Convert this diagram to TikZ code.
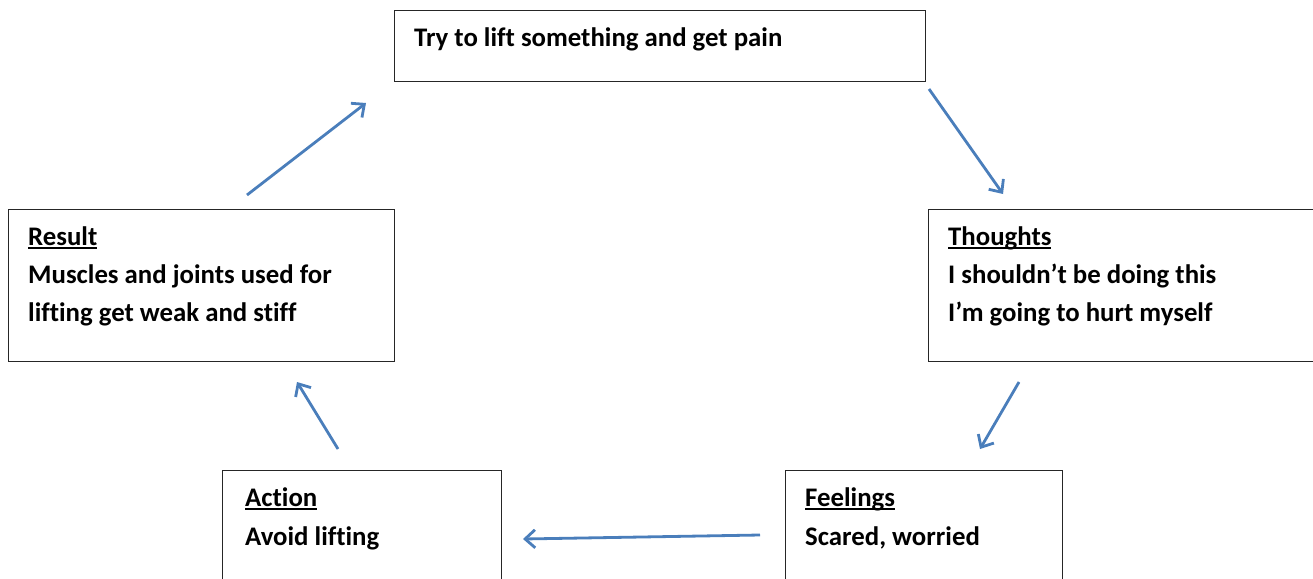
\documentclass[tikz,border=0pt]{standalone}
\usepackage{fontspec}
\setmainfont{Carlito}[Ligatures=NoCommon]
\usetikzlibrary{arrows.meta}
\definecolor{arrowblue}{HTML}{4A7EBB}
\newcommand{\ulword}[1]{\setbox0\hbox{#1}\rlap{\rule[-3.6pt]{\wd0}{1.8pt}}\box0}
\begin{document}
\begin{tikzpicture}[x=1pt,y=-1pt,
  boxshape/.style={draw=black!85,line width=1.4pt,rectangle,inner sep=0pt,anchor=north west},
  boxtext/.style={anchor=base west,inner sep=0pt,font=\fontsize{26.8}{32}\selectfont\bfseries},
  arr/.style={draw=arrowblue,line width=2.8pt,-{Straight Barb[length=10pt,width=18pt,line width=2.8pt]}}]
\useasboundingbox (0,0) rectangle (1313,578);
\clip (0,0) rectangle (1313,578);
% boxes
\node[boxshape,minimum width=531,minimum height=71] (top) at (394,10) {};
\node[boxshape,minimum width=420,minimum height=152] (thoughts) at (928,209) {};
\node[boxshape,minimum width=386,minimum height=152] (result) at (8,209) {};
\node[boxshape,minimum width=279,minimum height=140] (action) at (222,470) {};
\node[boxshape,minimum width=277,minimum height=140] (feelings) at (785,470) {};
% texts
\node[boxtext] (toptext) at (414,47) {Try to lift something and get pain};
\node[boxtext] (thoughts1) at (948,245) {\ulword{Thoughts}};
\node[boxtext] (thoughts2) at (948,283) {I shouldn’t be doing this};
\node[boxtext] (thoughts3) at (948,321) {I’m going to hurt myself};
\node[boxtext] (result1) at (28,245) {\ulword{Result}};
\node[boxtext] (result2) at (28,283) {Muscles and joints used for};
\node[boxtext] (result3) at (28,321) {lifting get weak and stiff};
\node[boxtext] (action1) at (245,506) {\ulword{Action}};
\node[boxtext] (action2) at (245,545) {Avoid lifting};
\node[boxtext] (feelings1) at (805,506) {\ulword{Feelings}};
\node[boxtext] (feelings2) at (805,545) {Scared, worried};
% connector ends
\coordinate (a1s) at (929,89);  \coordinate (a1e) at (1003,194);
\coordinate (a2s) at (1019,382); \coordinate (a2e) at (980,449);
\coordinate (a3s) at (760,535);  \coordinate (a3e) at (523,539);
\coordinate (a4s) at (338,449);  \coordinate (a4e) at (297,382);
\coordinate (a5s) at (247,195);  \coordinate (a5e) at (366,103);
\draw[arr] (a1s) -- (a1e);
\draw[arr] (a2s) -- (a2e);
\draw[arr] (a3s) -- (a3e);
\draw[arr] (a4s) -- (a4e);
\draw[arr] (a5s) -- (a5e);
\end{tikzpicture}
\end{document}
